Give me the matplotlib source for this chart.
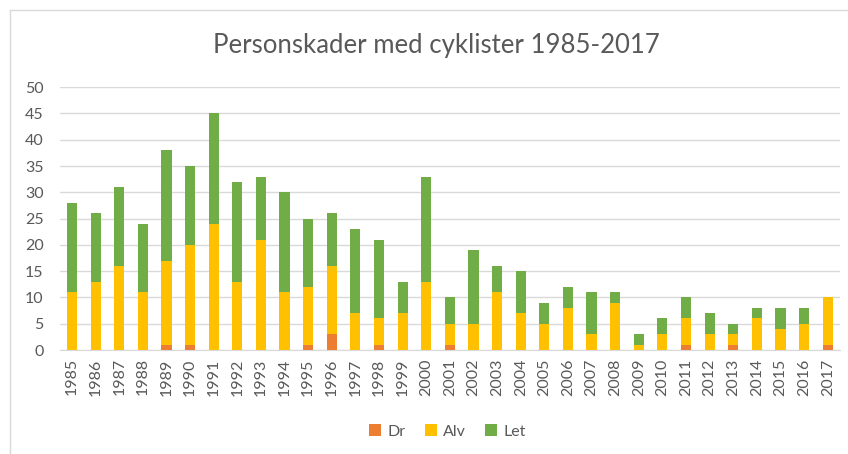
import matplotlib.pyplot as plt
import numpy as np
from matplotlib.lines import Line2D

# Data
years = list(range(1985, 2018))
dr = [0, 0, 0, 0, 1, 1, 0, 0, 0, 0, 1, 3, 0, 1, 0, 0, 1,
      0, 0, 0, 0, 0, 0, 0, 0, 0, 1, 0, 1, 0, 0, 0, 1]
alv = [11, 13, 16, 11, 16, 19, 24, 13, 21, 11, 11, 13, 7, 5, 7, 13, 4,
       5, 11, 7, 5, 8, 3, 9, 1, 3, 5, 3, 2, 6, 4, 5, 9]
let = [17, 13, 15, 13, 21, 15, 21, 19, 12, 19, 13, 10, 16, 15, 6, 20, 5,
       14, 5, 8, 4, 4, 8, 2, 2, 3, 4, 4, 2, 2, 4, 3, 0]

plt.rcParams['font.family'] = ['Lato', 'DejaVu Sans']
text_col = '#595959'

fig = plt.figure(figsize=(8.48, 4.54), dpi=100)
ax = fig.add_axes([0.071, 0.229, 0.919, 0.579])

x = np.arange(len(years))
dr = np.array(dr)
alv = np.array(alv)
let = np.array(let)
w = 0.43
ax.bar(x, dr, w, color='#ED7D31', label='Dr', zorder=3)
ax.bar(x, alv, w, bottom=dr, color='#FFC000', label='Alv', zorder=3)
ax.bar(x, let, w, bottom=dr + alv, color='#70AD47', label='Let', zorder=3)

ax.set_ylim(0, 50)
ax.set_xlim(-0.5, len(years) - 0.5)
ax.set_yticks(range(0, 51, 5))
ax.set_xticks(x)
ax.set_xticklabels([str(y) for y in years], rotation=90)
ax.tick_params(axis='both', length=0, colors=text_col, labelsize=11.5)
ax.tick_params(axis='y', pad=12)
ax.tick_params(axis='x', pad=6)
ax.grid(axis='y', color='#d9d9d9', linewidth=1, zorder=0)
for s in ['top', 'right', 'left']:
    ax.spines[s].set_visible(False)
ax.spines['bottom'].set_color('#d9d9d9')

fig.text(0.515, 0.9, 'Personskader med cyklister 1985-2017', ha='center',
         va='center', fontsize=18.5, color=text_col)

ax.legend(loc='center', bbox_to_anchor=(0.497, -0.31), ncol=3, frameon=False,
          fontsize=11.5, labelcolor=text_col, handlelength=0.75, handleheight=0.75,
          columnspacing=1.2, handletextpad=0.4)

# chart border
fig.add_artist(Line2D([10 / 848, 10 / 848], [0, 1 - 10 / 454], color='#d9d9d9', lw=1))
fig.add_artist(Line2D([10 / 848, 1], [1 - 10 / 454, 1 - 10 / 454], color='#d9d9d9', lw=1))

fig.savefig('out.png', dpi=100)
